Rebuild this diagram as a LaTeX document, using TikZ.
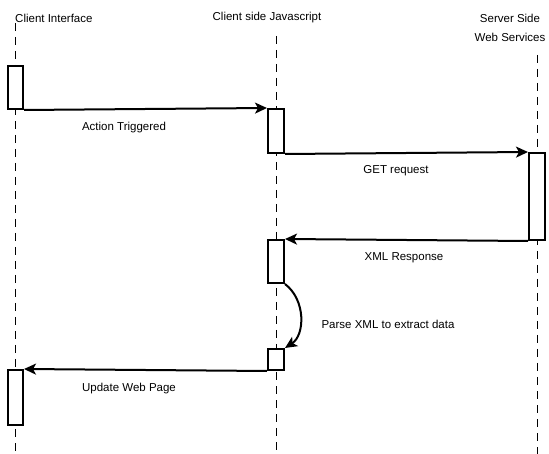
\documentclass[tikz,border=0pt]{standalone}
\usepackage{fontspec}
\setmainfont{Liberation Sans}
\usetikzlibrary{arrows.meta}
\begin{document}
\begin{tikzpicture}[x=1pt,y=-1pt,
  lifeline/.style={line width=0.9pt,dash pattern=on 8pt off 6pt,draw=black},
  actbox/.style={draw=black,fill=white,line width=2pt,rectangle,inner sep=0pt,minimum width=15pt},
  msg/.style={line width=2pt,-{Stealth[length=12pt,width=11pt,inset=3pt]}},
  lbl/.style={font=\fontsize{11.5}{14}\selectfont,text=black,inner sep=0pt}]
\useasboundingbox (0,0) rectangle (549,454);
% titles
\node[lbl,anchor=west] (tci) at (15,18) {Client Interface};
\node[lbl] (tjs) at (267,18) {Client side Javascript};
\node[lbl] (tsv1) at (510,18) {Server Side};
\node[lbl] (tsv2) at (510,37) {Web Services};
% lifelines
\coordinate (ciTop) at (15.5,23);
\coordinate (ciBot) at (15.5,454);
\coordinate (jsTop) at (276,36);
\coordinate (jsBot) at (276,454);
\coordinate (svTop) at (537,55);
\coordinate (svBot) at (537,454);
\draw[lifeline] (ciTop) -- (ciBot);
\draw[lifeline] (jsTop) -- (jsBot);
\draw[lifeline] (svTop) -- (svBot);
% activation boxes
\node[actbox,minimum height=43pt] (ci1) at (15.5,87.5) {};
\node[actbox,minimum width=16pt,minimum height=44pt] (js1) at (276,131) {};
\node[actbox,minimum width=16pt,minimum height=87pt] (sv) at (537,196.5) {};
\node[actbox,minimum width=16pt,minimum height=43pt] (js2) at (276,261.5) {};
\node[actbox,minimum width=16pt,minimum height=21pt] (js3) at (276,359.5) {};
\node[actbox,minimum height=55pt] (ci2) at (15.5,397.5) {};
% messages
\draw[msg] (ci1.south east) -- (js1.north west);
\draw[msg] (js1.south east) -- (sv.north west);
\draw[msg] (sv.south west) -- (js2.north east);
\draw[msg] (js2.south east) .. controls (306,300) and (305,335) .. (js3.north east);
\draw[msg] (js3.south west) -- (ci2.north east);
% labels
\node[lbl] (l1) at (124,128) {Action Triggered};
\node[lbl] (l2) at (396,171) {GET request};
\node[lbl] (l3) at (404,258) {XML Response};
\node[lbl] (l4) at (388,324) {Parse XML to extract data};
\node[lbl] (l5) at (129,389) {Update Web Page};
\end{tikzpicture}
\end{document}
